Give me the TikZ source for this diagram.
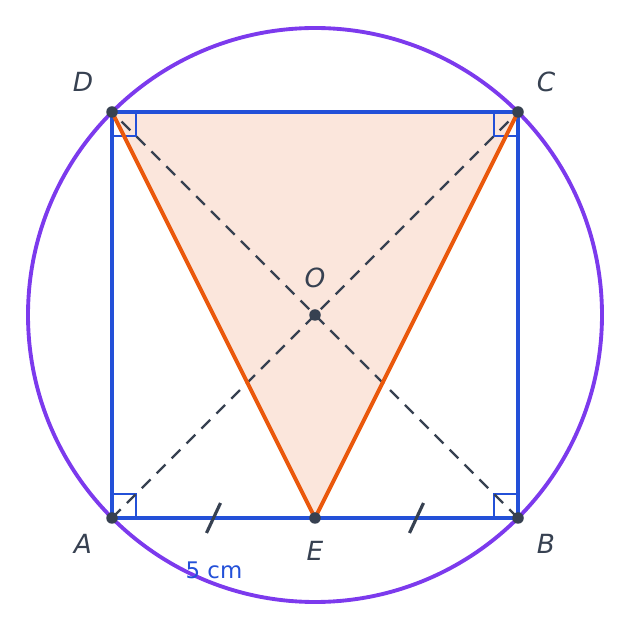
\documentclass[tikz,border=0pt]{standalone}
\usepackage{fontspec}
\setmainfont{DejaVu Sans}
\usetikzlibrary{calc}
\definecolor{sqblue}{HTML}{2350D8}
\definecolor{circpurple}{HTML}{7C3AED}
\definecolor{triorange}{HTML}{EA580C}
\definecolor{trifill}{HTML}{FBE6DC}
\definecolor{ptgray}{HTML}{374151}
\tikzset{
  pt/.style={circle,fill=ptgray,inner sep=0pt,minimum size=2.3mm},
  lbl/.style={text=ptgray,font=\fontsize{15}{17}\selectfont\itshape},
  diag/.style={ptgray,line width=1.4pt,dash pattern=on 7pt off 5pt},
  rmark/.style={sqblue,line width=1.1pt},
  tickmark/.style={ptgray,line width=1.8pt}
}
\begin{document}
\begin{tikzpicture}[x=0.2mm,y=0.2mm]
      \useasboundingbox (0,0) rectangle (630,630);
      \coordinate (A) at (112,112);
      \coordinate (B) at (518,112);
      \coordinate (C) at (518,518);
      \coordinate (D) at (112,518);
      \coordinate (O) at (315,315);
      \coordinate (E) at (315,112);

      \fill[trifill] (D) -- (C) -- (E) -- cycle;
      \draw[circpurple,line width=2.2pt] (O) circle (287);

      % right angles
      \draw[rmark] ($(A)+(0,24)$) -- ++(24,0) -- ++(0,-24);
      \draw[rmark] ($(B)+(0,24)$) -- ++(-24,0) -- ++(0,-24);
      \draw[rmark] ($(C)+(0,-24)$) -- ++(-24,0) -- ++(0,24);
      \draw[rmark] ($(D)+(0,-24)$) -- ++(24,0) -- ++(0,24);

      \draw[sqblue,line width=2.4pt] (A) -- (B) -- (C) -- (D) -- cycle;
      \draw[diag] (A) -- (C);
      \draw[diag] (B) -- (D);
      \draw[triorange,line width=2.2pt,line join=round] (D) -- (E) -- (C);

      \coordinate (t1) at ($(A)!.5!(E)$);
      \coordinate (t2) at ($(E)!.5!(B)$);
      \draw[tickmark] ($(t1)+(-7,-15)$) -- ($(t1)+(7,15)$);
      \draw[tickmark] ($(t2)+(-7,-15)$) -- ($(t2)+(7,15)$);

      \foreach \p in {A,B,C,D,O,E}
        \node[pt] at (\p) {};

      \node[lbl] at (83,548) {D};
      \node[lbl] at (546,548) {C};
      \node[lbl] at (83,86) {A};
      \node[lbl] at (546,86) {B};
      \node[lbl] at (315,79) {E};
      \node[lbl] at (315,352) {O};
      \node[text=sqblue,font=\fontsize{13}{15}\selectfont] at (214,60) {5 cm};
    \end{tikzpicture}
\end{document}
